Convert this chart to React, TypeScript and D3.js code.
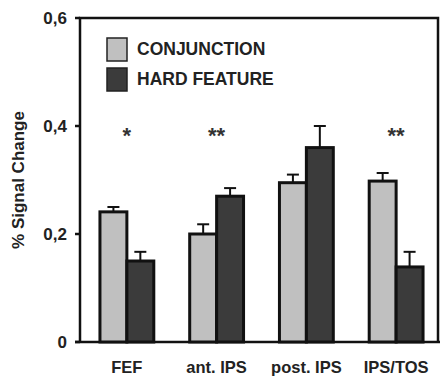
import React from 'react';
import * as d3 from 'd3';

const regions = ['FEF', 'ant. IPS', 'post. IPS', 'IPS/TOS'];
const conjunction = [0.241, 0.2, 0.295, 0.298];
const conjunctionErr = [0.009, 0.018, 0.015, 0.015];
const hardFeature = [0.15, 0.27, 0.36, 0.139];
const hardFeatureErr = [0.017, 0.015, 0.04, 0.028];
const stars = ['*', '**', '', '**'];
const yTicks = [0, 0.2, 0.4, 0.6];
const yTickLabels = ['0', '0,2', '0,4', '0,6'];
const seriesNames = ['CONJUNCTION', 'HARD FEATURE'];

const font = 'Liberation Sans, Arial, sans-serif';
const light = '#c0c0c0';
const dark = '#3b3b3b';

const App = () => {
  const width = 440;
  const height = 378;
  const left = 80;
  const right = 438;
  const top = 18;
  const bottom = 342;

  const y = d3.scaleLinear().domain([0, 0.6]).range([bottom, top]);
  const x = d3.scaleBand().domain(regions).range([82, 441]).paddingInner(0.4).paddingOuter(0.2);
  const bw = x.bandwidth() / 2;

  const series = [
    { vals: conjunction, errs: conjunctionErr, color: light, off: 0 },
    { vals: hardFeature, errs: hardFeatureErr, color: dark, off: bw },
  ];

  return (
    <svg width={width} height={height} style={{ position: 'absolute', left: 0, top: 0 }}>
      <rect width={width} height={height} fill="#fff" />
      {/* frame */}
      <path d={`M${left},${bottom} V${top} H${right} V${bottom}`} fill="none" stroke="#111" strokeWidth={2.5} />
      <line x1={left - 5} x2={width} y1={bottom} y2={bottom} stroke="#111" strokeWidth={2.5} />
      {yTicks.map((t, i) => (
        <g key={i}>
          <line x1={left - 5} x2={left} y1={y(t)} y2={y(t)} stroke="#111" strokeWidth={2.5} />
          <text x={left - 13} y={y(t)} dy="0.35em" textAnchor="end" fontFamily={font} fontWeight="bold" fontSize={17} fill="#222">
            {yTickLabels[i]}
          </text>
        </g>
      ))}
      <text transform={`translate(24,180) rotate(-90)`} textAnchor="middle" fontFamily={font} fontWeight="bold" fontSize={17} fill="#222">
        % Signal Change
      </text>
      {series.map((s, si) =>
        regions.map((r, i) => {
          const bx = (x(r) as number) + s.off;
          const cx = bx + bw / 2;
          return (
            <g key={`${si}-${i}`}>
              <line x1={cx} x2={cx} y1={y(s.vals[i])} y2={y(s.vals[i] + s.errs[i])} stroke="#111" strokeWidth={2} />
              <line x1={cx - 6} x2={cx + 6} y1={y(s.vals[i] + s.errs[i])} y2={y(s.vals[i] + s.errs[i])} stroke="#111" strokeWidth={2} />
              <rect x={bx} y={y(s.vals[i])} width={bw} height={y(0) - y(s.vals[i])} fill={s.color} stroke="#111" strokeWidth={3} />
            </g>
          );
        })
      )}
      {regions.map((r, i) => (
        <g key={r}>
          <text x={(x(r) as number) + bw} y={373} textAnchor="middle" fontFamily={font} fontWeight="bold" fontSize={16.5} fill="#222">
            {r}
          </text>
          <text x={(x(r) as number) + bw} y={143} textAnchor="middle" fontFamily={font} fontWeight="bold" fontSize={22} fill="#333">
            {stars[i]}
          </text>
        </g>
      ))}
      {seriesNames.map((n, i) => (
        <g key={n}>
          <rect x={107} y={38 + i * 30} width={20} height={23} fill={i === 0 ? light : dark} stroke="#222" strokeWidth={1.5} />
          <text x={137} y={49 + i * 30} dy="0.35em" fontFamily={font} fontWeight="bold" fontSize={17.5} fill="#222">
            {n}
          </text>
        </g>
      ))}
    </svg>
  );
};

export default App;
